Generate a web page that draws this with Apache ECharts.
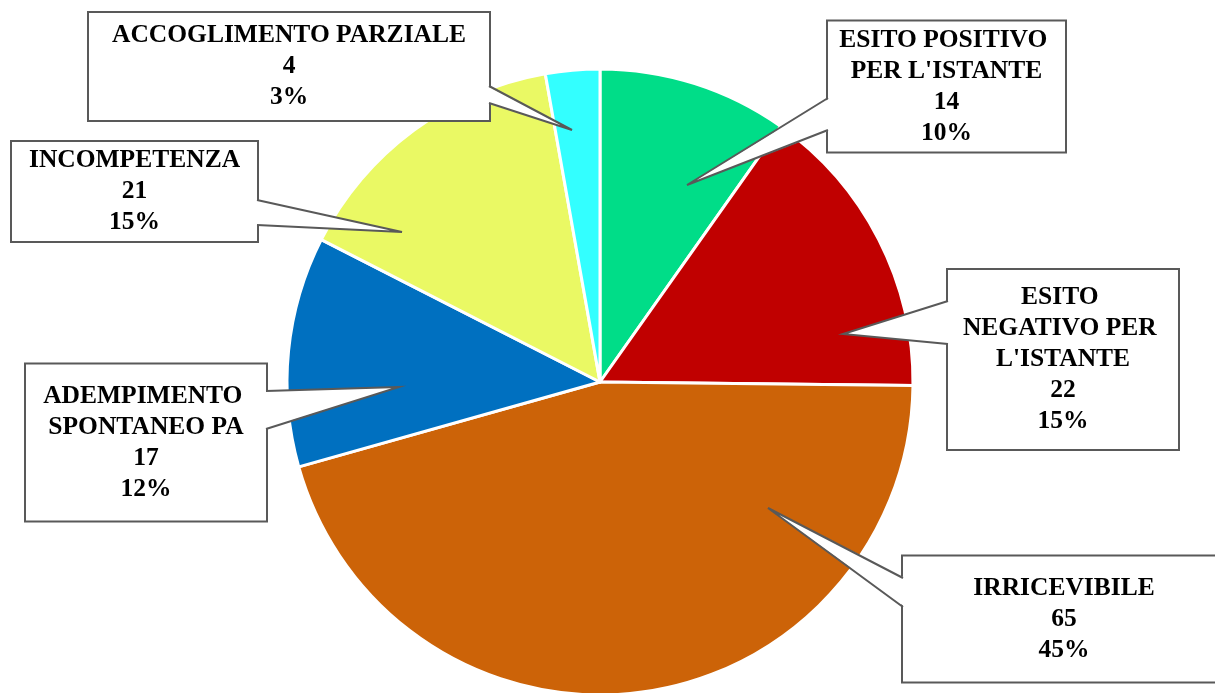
<!DOCTYPE html>
<html>
<head>
<meta charset="utf-8">
<script src="https://cdn.jsdelivr.net/npm/echarts@6/dist/echarts.min.js"></script>
<style>
  html, body { margin: 0; padding: 0; background: #fff; }
  #chart { width: 1215px; height: 693px; }
</style>
</head>
<body>
<div id="chart"></div>
<script>
// data, clockwise from 12 o'clock
const categories = [
  "ESITO POSITIVO PER L'ISTANTE",
  "ESITO NEGATIVO PER L'ISTANTE",
  "IRRICEVIBILE",
  "ADEMPIMENTO SPONTANEO PA",
  "INCOMPETENZA",
  "ACCOGLIMENTO PARZIALE"
];
const values = [14, 22, 65, 17, 21, 4];
const colors = ["#00DD88", "#C00000", "#CC6308", "#0070C0", "#EAF964", "#33FFFF"];

// callout boxes: x0, y0, x1, y1, vertical padding, horizontal padding
const boxes = [
  [828, 22, 1065, 151, 3, 4],
  [948, 270, 1178, 449, 12, 10],
  [903, 556, 1225, 682, 16, 4],
  [26, 364, 266, 521, 16, 4],
  [12, 142, 257, 241, 3, 4],
  [89, 13, 489, 120, 7, 4]
];
// callout pointers: edge x, base y0, base y1, tip x, tip y
const pointers = [
  [828, 98, 130, 687, 185],
  [948, 301, 344, 843, 334],
  [903, 578, 607, 768, 508],
  [266, 391, 429, 399, 387],
  [257, 200, 225, 402, 232],
  [489, 86, 103, 572, 130]
];

const chart = echarts.init(document.getElementById("chart"));

const pieData = categories.map((name, i) => {
  const b = boxes[i];
  return {
    name: name,
    value: values[i],
    itemStyle: { color: colors[i] },
    label: {
      width: b[2] - b[0] - 2 * b[5],
      padding: [b[4] + 2, b[5], b[4] - 2, b[5]]
    }
  };
});

// callout pointers drawn over the label boxes
const wedges = [];
pointers.forEach((p, i) => {
  const inward = p[0] === boxes[i][0] ? 2 : -2;
  wedges.push({
    type: "polygon",
    z: 100,
    shape: { points: [[p[0] + inward, p[1]], [p[3], p[4]], [p[0] + inward, p[2]]] },
    style: { fill: "#fff" }
  });
  wedges.push({
    type: "polyline",
    z: 101,
    shape: { points: [[p[0], p[1]], [p[3], p[4]], [p[0], p[2]]] },
    style: { stroke: "#595959", lineWidth: 2, fill: null }
  });
});

chart.setOption({
  animation: false,
  backgroundColor: "#fff",
  graphic: wedges,
  series: [
    {
      type: "pie",
      center: [600, 382],
      radius: 313,
      startAngle: 90,
      clockwise: true,
      percentPrecision: 0,
      avoidLabelOverlap: false,
      itemStyle: { borderColor: "#fff", borderWidth: 3 },
      label: {
        show: true,
        formatter: "{b}\n{c}\n{d}%",
        fontFamily: "Liberation Serif",
        fontWeight: "bold",
        fontSize: 25.5,
        lineHeight: 31,
        color: "#000",
        align: "center",
        overflow: "break",
        backgroundColor: "#fff",
        borderColor: "#595959",
        borderWidth: 2
      },
      labelLine: { show: false },
      labelLayout: function (params) {
        const b = boxes[params.dataIndex];
        return {
          x: (b[0] + b[2]) / 2,
          y: (b[1] + b[3]) / 2,
          align: "center",
          verticalAlign: "middle"
        };
      },
      emphasis: { disabled: true },
      data: pieData
    }
  ]
});
</script>
</body>
</html>
